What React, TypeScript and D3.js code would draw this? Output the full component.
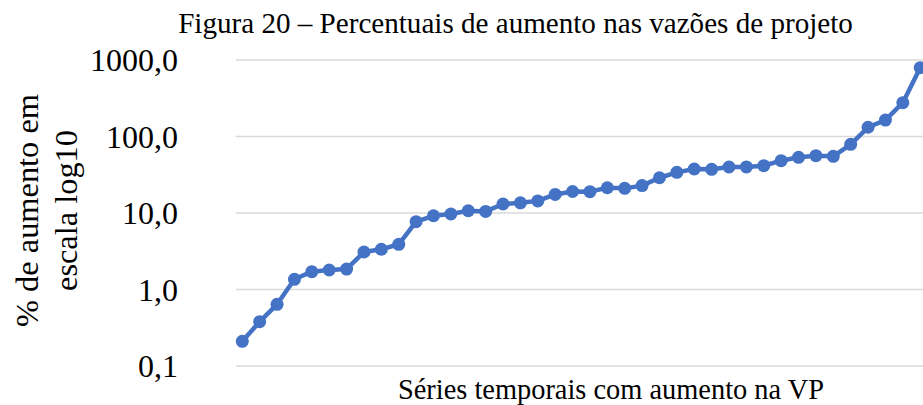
import React from "react";
import * as d3 from "d3";

const categories: number[] = Array.from({ length: 40 }, (_, i) => i + 1);
const values: number[] = [
  0.21, 0.38, 0.64, 1.36, 1.71, 1.8, 1.85, 3.09, 3.35, 3.9,
  7.7, 9.2, 9.7, 10.7, 10.5, 13.1, 13.6, 14.4, 17.5, 19.1,
  19.0, 21.4, 21.0, 22.8, 28.9, 34.0, 37.6, 37.2, 39.9, 40.0,
  41.5, 48.3, 53.5, 56.1, 55.1, 79.1, 132, 164, 277, 793,
];
const yTicks: number[] = [0.1, 1, 10, 100, 1000];
const yTickLabels: string[] = ["0,1", "1,0", "10,0", "100,0", "1000,0"];
const title = "Figura 20 – Percentuais de aumento nas vazões de projeto";
const xTitle = "Séries temporais com aumento na VP";
const yTitleLines: string[] = ["% de aumento em", "escala log10"];

const W = 923;
const H = 405;
const plotLeft = 233.6;
const plotRight = 928.9;
const plotTop = 60;
const plotBottom = 366;
const FONT = "'Liberation Serif', 'Times New Roman', serif";
const BLUE = "#4472C4";

export default function App() {
  const x = d3
    .scaleBand<number>()
    .domain(categories)
    .range([plotLeft, plotRight]);
  const y = d3.scaleLog().domain([0.1, 1000]).range([plotBottom, plotTop]);
  const cx = (c: number) => (x(c) as number) + x.bandwidth() / 2;
  const line = d3
    .line<number>()
    .x((_, i) => cx(categories[i]))
    .y((v) => y(v));

  return (
    <svg
      width={W}
      height={H}
      style={{ position: "absolute", left: 0, top: 0, background: "#fff" }}
      fontFamily={FONT}
    >
      <rect x={0} y={0} width={W} height={H} fill="#fff" />
      <text x={515.5} y={33} textAnchor="middle" fontSize={29.1} fill="#000">
        {title}
      </text>
      {yTicks.map((t, i) => (
        <g key={t}>
          <line
            x1={plotLeft + 2}
            x2={plotRight}
            y1={y(t)}
            y2={y(t)}
            stroke="#d9d9d9"
            strokeWidth={1.5}
          />
          <text
            x={178}
            y={y(t)}
            dy="0.35em"
            textAnchor="end"
            fontSize={32}
            fill="#000"
          >
            {yTickLabels[i]}
          </text>
        </g>
      ))}
      <path
        d={line(values) || ""}
        fill="none"
        stroke={BLUE}
        strokeWidth={4.5}
        strokeLinejoin="round"
      />
      {values.map((v, i) => (
        <circle key={i} cx={cx(categories[i])} cy={y(v)} r={6.5} fill={BLUE} />
      ))}
      <text x={611} y={399} textAnchor="middle" fontSize={28.4} fill="#000">
        {xTitle}
      </text>
      <g transform="translate(0,210.5) rotate(-90)">
        <text x={0} y={38} textAnchor="middle" fontSize={32.4} fill="#000">
          {yTitleLines[0]}
        </text>
        <text x={0} y={77} textAnchor="middle" fontSize={32.4} fill="#000">
          {yTitleLines[1]}
        </text>
      </g>
    </svg>
  );
}
